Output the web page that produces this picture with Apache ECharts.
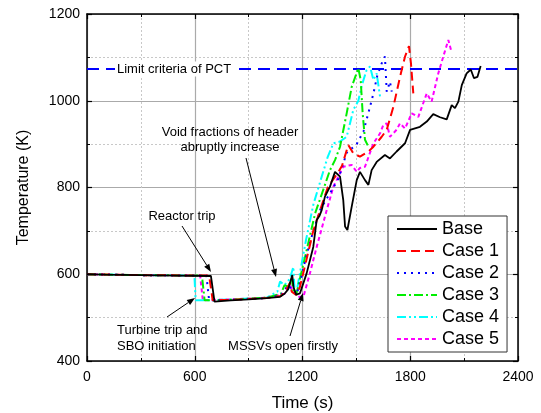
<!DOCTYPE html>
<html><head><meta charset="utf-8">
<script src="https://cdn.jsdelivr.net/npm/echarts@6/dist/echarts.min.js"></script>
<style>html,body{margin:0;padding:0;background:#fff}#c{width:541px;height:413px}</style>
</head><body><div id="c"></div>
<script>
var xTicks = [0, 600, 1200, 1800, 2400];
var yTicks = [400, 600, 800, 1000, 1200];
var seriesNames = ['Base', 'Case 1', 'Case 2', 'Case 3', 'Case 4', 'Case 5'];
var pctLimit = 1073;

var baseTime = [0,100,300,500,690,710,800,900,1000,1075,1100,1120,1143,1150,1165,1186,1223,1260,1279,1295,1307,1325,1353,1381,1409,1427,1437,1450,1474,1502,1520,1548,1567,1585,1613,1659,1687,1724,1771,1799,1854,1892,1928,1966,2003,2031,2049,2068,2087,2114,2137,2155,2174,2192];
var baseTemp = [600,599,598,597,596,537,540,542,545,548,555,565,598,570,553,556,602,663,725,735,748,779,802,836,825,771,710,702,756,817,836,817,806,840,859,875,867,883,902,933,940,952,969,962,957,990,983,998,1036,1063,1072,1052,1055,1080];

var case1Time = [0,300,600,680,700,800,1000,1080,1110,1130,1140,1165,1185,1220,1260,1300,1340,1400,1420,1455,1483,1520,1567,1595,1641,1669,1706,1743,1771,1793,1804,1817];
var case1Temp = [600,598,597,597,540,541,545,550,565,580,560,552,570,630,700,750,800,836,850,898,879,871,883,894,917,933,986,1055,1102,1126,1086,1017];

var case2Time = [0,300,600,665,680,800,1000,1080,1120,1140,1165,1180,1220,1260,1300,1353,1400,1446,1502,1540,1576,1595,1617,1641,1659,1669,1687,1697];
var case2Temp = [600,598,597,597,540,541,545,552,575,565,553,570,640,700,750,787,820,880,900,930,986,1017,1059,1086,1102,1021,1044,1021];

var case3Time = [0,300,600,640,655,800,1000,1080,1100,1121,1140,1150,1165,1180,1220,1270,1320,1353,1381,1409,1446,1474,1511,1524,1535,1548,1567];
var case3Temp = [600,598,597,597,540,541,546,555,575,571,590,560,553,580,650,740,800,840,863,894,971,1032,1075,1048,971,910,894];

var case4Time = [0,300,598,605,700,800,1000,1060,1075,1100,1130,1149,1155,1165,1180,1220,1260,1307,1340,1372,1409,1446,1483,1511,1530,1557,1576,1595,1613,1632];
var case4Temp = [600,598,597,540,540,542,546,560,583,575,590,617,570,555,590,680,760,825,870,902,906,917,979,1000,1035,1071,1079,1048,1063,1009];

var case5Time = [0,300,600,630,645,800,1000,1100,1130,1150,1175,1205,1240,1279,1335,1372,1427,1474,1502,1520,1548,1595,1632,1650,1669,1687,1724,1743,1771,1808,1845,1892,1919,1956,1984,2012,2027];
var case5Temp = [600,598,597,597,540,542,546,555,575,560,548,548,600,663,748,802,848,852,836,845,848,902,925,944,948,917,933,948,936,971,963,1017,998,1063,1102,1140,1117];

function pairs(t, v) { return t.map(function (x, i) { return [x, v[i]]; }); }

var colors = ['#000000', '#ff0000', '#0000ff', '#00ee00', '#00ffff', '#ff00ff'];
var dashes = ['solid', [9, 5], [2, 5], [9, 3, 2, 3], [9, 3, 2, 3, 2, 3], [4, 3]];
var times = [baseTime, case1Time, case2Time, case3Time, case4Time, case5Time];
var temps = [baseTemp, case1Temp, case2Temp, case3Temp, case4Temp, case5Temp];

var series = seriesNames.map(function (n, i) {
  return {
    name: n, type: 'line', data: pairs(times[i], temps[i]), symbol: 'none', showSymbol: false,
    lineStyle: { color: colors[i], width: i === 0 ? 1.8 : 2, type: dashes[i] },
    itemStyle: { color: colors[i] }, z: 10 - i, animation: false
  };
});
series.push({
  name: 'limit', type: 'line', data: [[xTicks[0], pctLimit], [xTicks[xTicks.length - 1], pctLimit]],
  symbol: 'none', lineStyle: { color: '#0000ff', width: 2, type: [12, 7] }, z: 1, animation: false
});

function arrow(x1, y1, x2, y2) {
  var dx = x2 - x1, dy = y2 - y1, L = Math.sqrt(dx * dx + dy * dy);
  var ux = dx / L, uy = dy / L, h = 8, w = 3;
  var bx = x2 - ux * h, by = y2 - uy * h;
  return [
    { type: 'line', shape: { x1: x1, y1: y1, x2: bx, y2: by }, style: { stroke: '#000', lineWidth: 1 }, z: 50 },
    { type: 'polygon', shape: { points: [[x2, y2], [bx - uy * w, by + ux * w], [bx + uy * w, by - ux * w]] }, style: { fill: '#000' }, z: 50 }
  ];
}
var font = '"Liberation Sans", Arial, sans-serif';
function txt(x, y, s, align) {
  return { type: 'text', x: x, y: y, z: 60, style: { text: s, font: '13px ' + font, fill: '#000', align: align || 'center', verticalAlign: 'middle' } };
}
var graphics = [];
graphics.push({ type: 'text', x: 115, y: 69, z: 60, style: { text: 'Limit criteria of PCT', font: '13px ' + font, fill: '#000', align: 'left', verticalAlign: 'middle', backgroundColor: '#fff', padding: [1, 2] } });
graphics.push(txt(230, 132, 'Void fractions of header'));
graphics.push(txt(230, 147, 'abruptly increase'));
graphics.push(txt(182, 216, 'Reactor trip'));
graphics.push(txt(117, 330, 'Turbine trip and', 'left'));
graphics.push(txt(117, 346, 'SBO initiation', 'left'));
graphics.push(txt(283, 346, 'MSSVs open firstly'));
graphics = graphics.concat(arrow(246, 158, 276, 277));
graphics = graphics.concat(arrow(182, 226, 211, 272));
graphics = graphics.concat(arrow(167, 317, 195, 298));
graphics = graphics.concat(arrow(290, 336, 303, 293));

var axisCommon = {
  type: 'value',
  axisLine: { show: true, onZero: false, lineStyle: { color: '#000', width: 1.5 } },
  axisTick: { show: true, inside: true, length: 5, lineStyle: { color: '#000', width: 1.2 } },
  minorTick: { show: true, splitNumber: 2, length: 3, lineStyle: { color: '#000', width: 1 } }
};
function mk(extra) { return Object.assign({}, JSON.parse(JSON.stringify(axisCommon)), extra); }
function plain(v) { return String(v); }

var option = {
  animation: false,
  backgroundColor: '#fff',
  grid: { left: 87, right: 23, top: 14, bottom: 52, containLabel: false, outerBoundsMode: 'none' },
  legend: {
    orient: 'vertical', left: 388, top: 216,
    data: seriesNames,
    itemWidth: 40, itemHeight: 12, itemGap: 4,
    itemStyle: { opacity: 0 },
    textStyle: { fontSize: 18, fontFamily: font, color: '#000' },
    borderColor: '#333', borderWidth: 1, backgroundColor: '#fff',
    padding: [4, 8, 4, 8], z: 100
  },
  xAxis: [
    mk({ min: xTicks[0], max: xTicks[4], interval: 600, position: 'bottom',
      axisLabel: { fontSize: 14, fontFamily: font, color: '#000', margin: 9, formatter: plain },
      splitLine: { show: true, lineStyle: { color: '#aaa', width: 1.2 } },
      minorSplitLine: { show: true, lineStyle: { color: '#c8c8c8', type: [2, 2], width: 1 } },
      name: 'Time (s)', nameLocation: 'middle', nameGap: 34,
      nameTextStyle: { fontSize: 17, fontFamily: font, color: '#000' } }),
    mk({ min: xTicks[0], max: xTicks[4], interval: 600, position: 'top', axisLabel: { show: false }, splitLine: { show: false } })
  ],
  yAxis: [
    mk({ min: yTicks[0], max: yTicks[4], interval: 200, position: 'left',
      axisLabel: { fontSize: 14, fontFamily: font, color: '#000', margin: 7, formatter: plain },
      splitLine: { show: true, lineStyle: { color: '#aaa', width: 1.2 } },
      minorSplitLine: { show: true, lineStyle: { color: '#c8c8c8', type: [2, 2], width: 1 } },
      name: 'Temperature (K)', nameLocation: 'middle', nameGap: 55, nameRotate: 90,
      nameTextStyle: { fontSize: 16, fontFamily: font, color: '#000' } }),
    mk({ min: yTicks[0], max: yTicks[4], interval: 200, position: 'right', axisLabel: { show: false }, splitLine: { show: false } })
  ],
  series: series,
  graphic: graphics
};
var chart = echarts.init(document.getElementById('c'), null, { renderer: 'canvas' });
chart.setOption(option);
</script></body></html>
